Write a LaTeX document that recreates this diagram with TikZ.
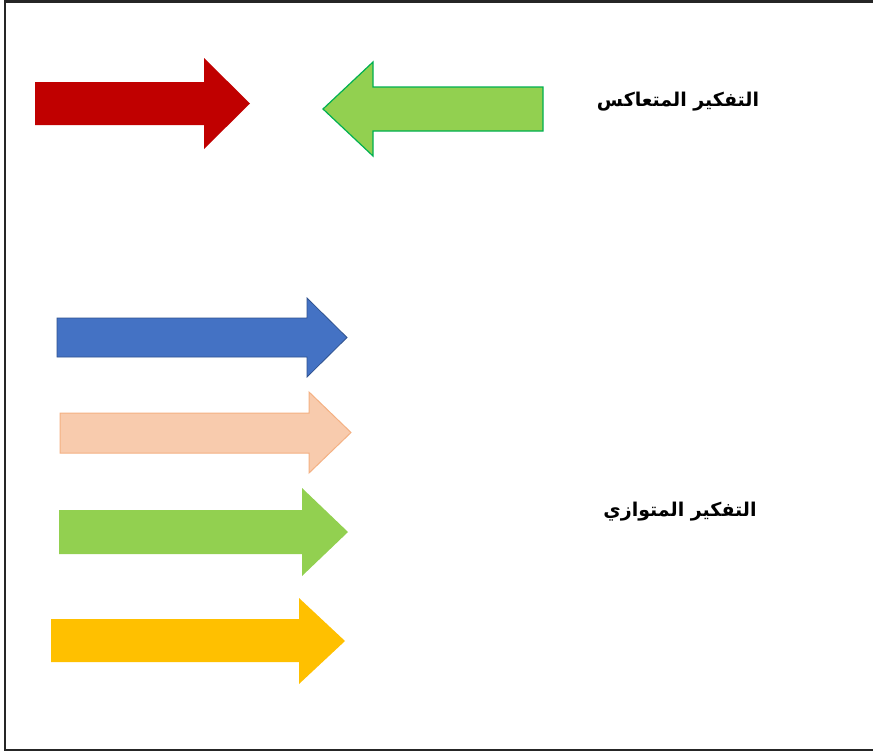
\documentclass[tikz,border=0pt]{standalone}
\usepackage{fontspec}
\TeXXeTstate=1
\newfontfamily\arabicfont[Script=Arabic]{DejaVu Sans}
\definecolor{cRed}{HTML}{C00000}
\definecolor{cGreen}{HTML}{92D050}
\definecolor{cGreenLine}{HTML}{00B050}
\definecolor{cBlue}{HTML}{4472C4}
\definecolor{cBlueLine}{HTML}{2F528F}
\definecolor{cPeach}{HTML}{F8CBAD}
\definecolor{cPeachLine}{HTML}{F4B183}
\definecolor{cYellow}{HTML}{FFC000}
\tikzset{
  label/.style={font=\arabicfont\bfseries\fontsize{19}{23}\selectfont, inner sep=0pt},
  frame/.style={line width=2.4pt, draw=black!85}
}
\newcommand{\myrarrow}[7]{(#1,#2) -- (#4,#2) -- (#4,#5) -- (#7,{(#5+#6)/2}) -- (#4,#6) -- (#4,#3) -- (#1,#3) -- cycle}
\begin{document}
\begin{tikzpicture}[x=1pt,y=-1pt]
\useasboundingbox (0,0) rectangle (873,753);
\fill[white] (0,0) rectangle (873,753);
\coordinate (tr) at (880,1.5);
\coordinate (tl) at (5,1.5);
\coordinate (bl) at (5,750);
\coordinate (br) at (880,750);
\draw[frame] (tr) -- (tl) -- (bl) -- (br);
% red arrow
\fill[cRed] \myrarrow{35}{82}{125}{204}{58}{149}{250};
% green left arrow
\filldraw[fill=cGreen, draw=cGreenLine, line width=1.2pt]
  (543,87) -- (373,87) -- (373,62) -- (323,109) -- (373,156) -- (373,131) -- (543,131) -- cycle;
% parallel arrows
\filldraw[fill=cBlue, draw=cBlueLine, line width=0.8pt] \myrarrow{57}{318}{357}{307}{298}{377}{347};
\filldraw[fill=cPeach, draw=cPeachLine, line width=1pt] \myrarrow{60}{413}{453}{309}{392}{473}{351};
\fill[cGreen] \myrarrow{59}{510}{554}{302}{488}{576}{348};
\fill[cYellow] \myrarrow{51}{619}{662}{299}{598}{684}{345};
\node[label] (t1) at (678,102) {\beginR التفكير المتعاكس\endR};
\node[label] (t2) at (680,512) {\beginR التفكير المتوازي\endR};
\end{tikzpicture}
\end{document}
